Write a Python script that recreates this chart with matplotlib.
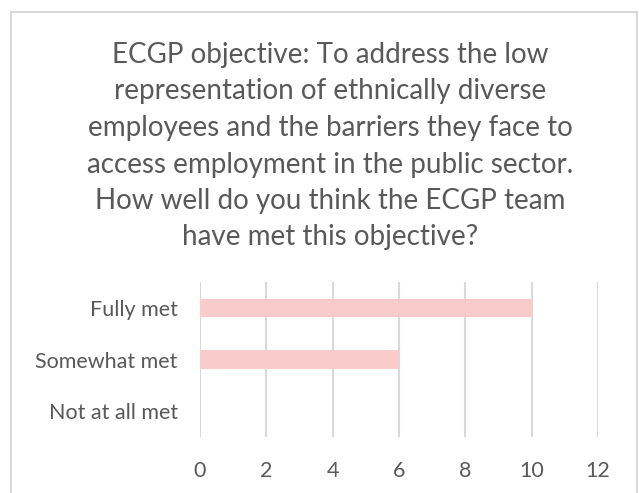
import matplotlib.pyplot as plt
from matplotlib.patches import Rectangle

# survey responses
categories = ['Fully met', 'Somewhat met', 'Not at all met']
counts = [10, 6, 0]
x_ticks = [0, 2, 4, 6, 8, 10, 12]

title = ('ECGP objective: To address the low\n'
         'representation of ethnically diverse\n'
         'employees and the barriers they face to\n'
         'access employment in the public sector.\n'
         'How well do you think the ECGP team\n'
         'have met this objective?')

plt.rcParams['font.family'] = ['Lato', 'DejaVu Sans']
text_color = '#595959'
grid_color = '#d9d9d9'
bar_color = '#f9cbcb'

W, H = 639, 493
fig = plt.figure(figsize=(W / 100, H / 100), dpi=100)

# chart-area border
fig.patches.append(Rectangle((11 / W, -0.05), (637 - 11) / W, 1.05 - 12 / H,
                             transform=fig.transFigure, fill=False,
                             edgecolor=grid_color, linewidth=1.5))

ax = fig.add_axes([200 / W, 1 - 437 / H, (598 - 200) / W, (437 - 282) / H])

ypos = list(range(len(categories)))
ax.barh(ypos, counts, height=0.36, color=bar_color, zorder=3)
ax.set_ylim(len(categories) - 0.5, -0.5)
ax.set_yticks(ypos)
ax.set_yticklabels(categories)
ax.set_xlim(x_ticks[0], x_ticks[-1])
ax.set_xticks(x_ticks)

ax.grid(axis='x', color=grid_color, linewidth=1.5, zorder=0)
for s in ax.spines.values():
    s.set_visible(False)
ax.tick_params(axis='both', length=0, labelsize=15.5, colors=text_color)
ax.tick_params(axis='y', pad=16)
ax.tick_params(axis='x', pad=17)

fig.text(330 / W, 1 - 42 / H, title, ha='center', va='top', fontsize=20,
         color=text_color, linespacing=1.5)

fig.savefig('out.png', dpi=100)
